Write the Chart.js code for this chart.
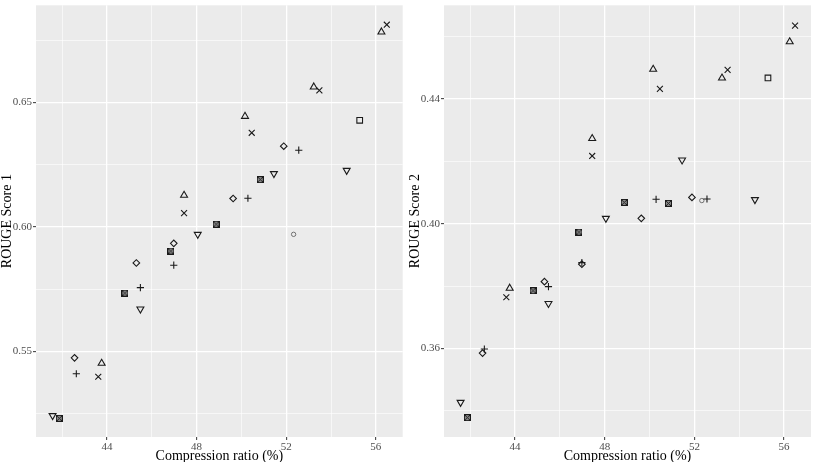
<!DOCTYPE html>
<html>
<head>
<meta charset="utf-8">
<script src="https://cdn.jsdelivr.net/npm/chart.js"></script>
<style>
  html, body { margin: 0; padding: 0; background: #fff; }
  #wrap { position: relative; width: 817px; height: 462px; }
  canvas { position: absolute; top: 0; }
</style>
</head>
<body>
<div id="wrap">
  <canvas id="chart1" width="408" height="462" style="left:0"></canvas>
  <canvas id="chart2" width="409" height="462" style="left:408px"></canvas>
</div>
<script>
// compression ratio (%) per method, shared by both panels
const xTriUp   = [43.76, 47.44, 50.16, 53.23, 56.25];
const xCross   = [43.61, 47.44, 50.46, 53.48, 56.49];
const xPlus    = [42.63, 45.49, 46.98, 50.29, 52.56];
const xDiamond = [42.55, 45.31, 46.98, 49.63, 51.89];
const xBoxed   = [41.87, 44.80, 46.85, 48.87, 50.84];
const xTriDown = [41.57, 45.49, 48.05, 51.45, 54.70];
const xCircle  = [52.33];
const xSquare  = [55.28];

// ROUGE Score 1
const r1TriUp   = [0.5452, 0.6127, 0.6444, 0.6562, 0.6783];
const r1Cross   = [0.5398, 0.6055, 0.6378, 0.6548, 0.6812];
const r1Plus    = [0.5410, 0.5756, 0.5846, 0.6115, 0.6308];
const r1Diamond = [0.5474, 0.5855, 0.5934, 0.6114, 0.6324];
const r1Boxed   = [0.5231, 0.5734, 0.5903, 0.6011, 0.6190];
const r1TriDown = [0.5242, 0.5670, 0.5970, 0.6214, 0.6227];
const r1Circle  = [0.5970];
const r1Square  = [0.6428];

// ROUGE Score 2
const r2TriUp   = [0.3793, 0.4273, 0.4495, 0.4467, 0.4583];
const r2Cross   = [0.3764, 0.4217, 0.4432, 0.4493, 0.4635];
const r2Plus    = [0.3598, 0.3798, 0.3875, 0.4078, 0.4079];
const r2Diamond = [0.3585, 0.3814, 0.3870, 0.4017, 0.4084];
const r2Boxed   = [0.3378, 0.3785, 0.3973, 0.4068, 0.4065];
const r2TriDown = [0.3427, 0.3744, 0.4017, 0.4204, 0.4077];
const r2Circle  = [0.4074];
const r2Square  = [0.4467];

// ticks
const xMajor = [44, 48, 52, 56];
const xMinor = [42, 46, 50, 54];
const xLabels = ['44', '48', '52', '56'];
const y1Major = [0.55, 0.60, 0.65];
const y1Minor = [0.525, 0.575, 0.625, 0.675];
const y1Labels = ['0.55', '0.60', '0.65'];
const y2Major = [0.36, 0.40, 0.44];
const y2Minor = [0.34, 0.38, 0.42, 0.46];
const y2Labels = ['0.36', '0.40', '0.44'];

const INK = '#1a1a1a';
const SERIF = '"Liberation Serif", "Times New Roman", serif';

// square with a cross inside (ggplot shape 7)
const boxedMark = document.createElement('canvas');
boxedMark.width = 7;
boxedMark.height = 7;
(function () {
    const c = boxedMark.getContext('2d');
    c.fillStyle = 'rgba(26,26,26,0.45)';
    c.fillRect(1, 1, 5, 5);
    c.strokeStyle = INK;
    c.lineWidth = 1;
    c.strokeRect(0.5, 0.5, 6, 6);
    c.beginPath();
    c.moveTo(0.5, 0.5); c.lineTo(6.5, 6.5);
    c.moveTo(6.5, 0.5); c.lineTo(0.5, 6.5);
    c.stroke();
})();

const panelBg = {
    id: 'panelBg',
    beforeDraw(chart) {
        const { ctx, chartArea: a } = chart;
        ctx.save();
        ctx.fillStyle = '#EBEBEB';
        ctx.fillRect(a.left, a.top, a.right - a.left, a.bottom - a.top);
        ctx.restore();
    }
};

function pts(xs, ys) {
    return xs.map((x, i) => ({ x: x, y: ys[i] }));
}

function series(xs, ys, style, radius, extra) {
    return Object.assign({
        data: pts(xs, ys),
        pointStyle: style,
        pointRadius: radius,
        pointHoverRadius: radius,
        borderColor: INK,
        backgroundColor: 'rgba(0,0,0,0)',
        borderWidth: 1.1,
        showLine: false
    }, extra || {});
}

function axis(min, max, major, minor, labels, title, isX) {
    const all = major.concat(minor).sort((a, b) => a - b);
    return {
        type: 'linear',
        min: min,
        max: max,
        afterBuildTicks: s => { s.ticks = all.map(v => ({ value: v })); },
        afterFit: s => {
            if (isX) s.height = 25; else s.width = 36;
            // no extra room for half labels at the ends
            s.paddingTop = 0; s.paddingBottom = 0;
            s.paddingLeft = 0; s.paddingRight = 0;
        },
        border: { display: false },
        grid: {
            color: '#ffffff',
            lineWidth: c => (c.tick && major.includes(c.tick.value)) ? 1.3 : 0.6,
            tickLength: 3,
            tickWidth: 1,
            tickColor: c => (c.tick && major.includes(c.tick.value)) ? '#333333' : 'rgba(0,0,0,0)'
        },
        ticks: {
            autoSkip: false,
            maxRotation: 0,
            padding: 1,
            color: '#4D4D4D',
            font: { family: SERIF, size: 11 },
            callback: v => {
                const i = major.indexOf(v);
                return i >= 0 ? labels[i] : '';
            }
        },
        title: {
            display: true,
            text: title,
            color: '#000000',
            font: { family: SERIF, size: 14, lineHeight: 1 },
            padding: isX ? { top: 0, bottom: -1 } : { top: 0, bottom: 0 }
        }
    };
}

function makeChart(id, ys, yMin, yMax, yMajor, yMinor, yLabels, yTitle, rightPad) {
    const ctx = document.getElementById(id).getContext('2d');
    return new Chart(ctx, {
        type: 'scatter',
        data: {
            datasets: [
                series(xTriUp, ys.triUp, 'triangle', 4),
                series(xCross, ys.cross, 'crossRot', 4.2),
                series(xPlus, ys.plus, 'cross', 3.6),
                series(xDiamond, ys.diamond, 'rectRot', 3.3),
                series(xBoxed, ys.boxed, boxedMark, 3.5),
                series(xTriDown, ys.triDown, 'triangle', 4, { rotation: 180 }),
                series(xCircle, ys.circle, 'circle', 2.2, { borderColor: '#555555', borderWidth: 0.8 }),
                series(xSquare, ys.square, 'rect', 4)
            ]
        },
        options: {
            responsive: false,
            animation: false,
            devicePixelRatio: 1,
            layout: { padding: { top: 3, right: rightPad, left: 0, bottom: 0 } },
            plugins: {
                legend: { display: false },
                tooltip: { enabled: false }
            },
            scales: {
                x: axis(40.83, 57.2, xMajor, xMinor, xLabels, 'Compression ratio (%)', true),
                y: axis(yMin, yMax, yMajor, yMinor, yLabels, yTitle, false)
            }
        },
        plugins: [panelBg]
    });
}

makeChart('chart1', {
    triUp: r1TriUp, cross: r1Cross, plus: r1Plus, diamond: r1Diamond,
    boxed: r1Boxed, triDown: r1TriDown, circle: r1Circle, square: r1Square
}, 0.5156, 0.689, y1Major, y1Minor, y1Labels, 'ROUGE Score 1', 5);

makeChart('chart2', {
    triUp: r2TriUp, cross: r2Cross, plus: r2Plus, diamond: r2Diamond,
    boxed: r2Boxed, triDown: r2TriDown, circle: r2Circle, square: r2Square
}, 0.3316, 0.470, y2Major, y2Minor, y2Labels, 'ROUGE Score 2', 6);
</script>
</body>
</html>
